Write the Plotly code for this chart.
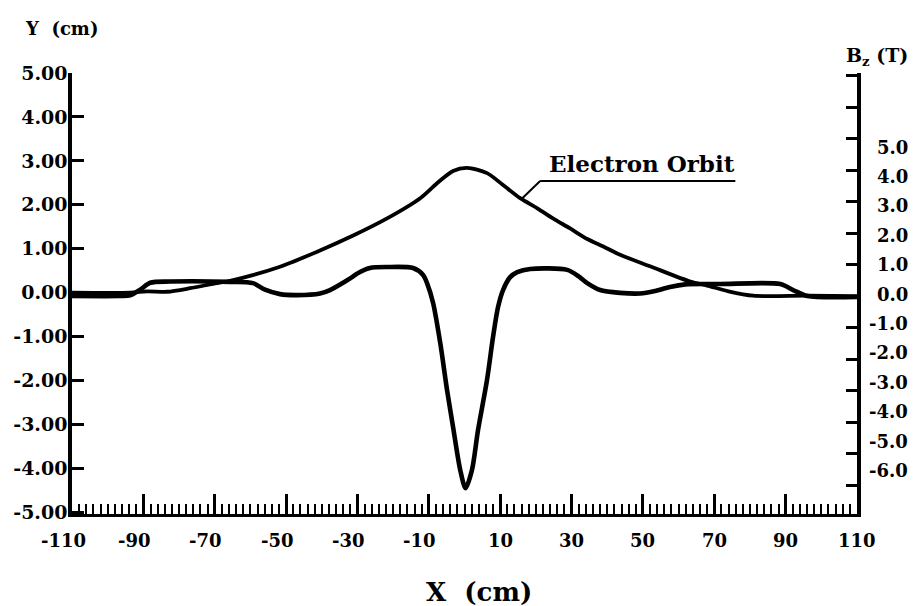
import plotly.graph_objects as go

# ---- data ----
x_orbit = [-110, -93.7, -89.0, -83.4, -76.9, -70.5, -65.7, -51.7, -40.5, -31.2, -21.7, -12.4,
           -7.7, -3.2, 0.7, 6.3, 10.8, 15.6, 20.4, 24.8, 29.6, 34.4, 38.9, 43.6, 52.0, 63.3,
           68.0, 74.0, 80.9, 96.1, 110]
y_orbit = [0.0, 0.0, 0.03, 0.02, 0.10, 0.20, 0.27, 0.59, 0.96, 1.30, 1.69, 2.15,
           2.49, 2.77, 2.84, 2.72, 2.45, 2.15, 1.92, 1.69, 1.46, 1.22, 1.05, 0.86, 0.60, 0.25,
           0.16, 0.03, -0.07, -0.07, -0.08]

x_field = [-110, -96.5, -93.7, -90.9, -88.1, -82.5, -65.7, -59.3, -55.9, -51.7, -46.9, -40.5,
           -37.7, -32.9, -29.3, -26.5, -21.7, -14.4, -11.6, -10.5, -8.8, -6.8, -4.9, -3.2,
           -1.2, 0.3, 2.1, 3.8, 6.3, 8.0, 9.4, 10.8, 12.8, 14.8, 18.4, 28.8, 31.9, 34.4,
           38.0, 43.6, 49.2, 53.4, 57.6, 61.9, 71.7, 88.5, 92.1, 96.1, 110]
b_field = [0.0, 0.0, 0.02, 0.20, 0.42, 0.46, 0.45, 0.41, 0.20, 0.06, 0.03, 0.08,
           0.19, 0.50, 0.76, 0.89, 0.92, 0.89, 0.67, 0.41, -0.22, -1.49, -2.98, -4.16,
           -5.52, -6.10, -5.52, -4.25, -2.67, -1.30, -0.35, 0.19, 0.60, 0.76, 0.86, 0.83, 0.63, 0.41,
           0.19, 0.10, 0.08, 0.16, 0.29, 0.37, 0.38, 0.38, 0.19, 0.0, -0.03]

x_tickvals = [-110, -90, -70, -50, -30, -10, 10, 30, 50, 70, 90, 110]
x_ticktext = ["-110", "-90", "-70", "-50", "-30", "-10", "10", "30", "50", "70", "90", "110"]
y_tickvals = [5, 4, 3, 2, 1, 0, -1, -2, -3, -4, -5]
y_ticktext = ["5.00", "4.00", "3.00", "2.00", "1.00", "0.00", "-1.00", "-2.00", "-3.00", "-4.00", "-5.00"]
b_tickmarks = [-6, -5, -4, -3, -2, -1, 0, 1, 2, 3, 4, 5, 6, 7]
b_labelvals = [5, 4, 3, 2, 1, 0, -1, -2, -3, -4, -5, -6]
b_labeltext = ["5.0", "4.0", "3.0", "2.0", "1.0", "0.0", "-1.0", "-2.0", "-3.0", "-4.0", "-5.0", "-6.0"]

FONT = "DejaVu Serif"

def f(size):
    return dict(family=FONT, size=size, color="black", weight="bold")

fig = go.Figure()
fig.add_trace(go.Scatter(x=x_orbit, y=y_orbit, mode="lines", yaxis="y",
                         line=dict(color="black", width=3.8, shape="spline", smoothing=0.8),
                         hoverinfo="skip"))
fig.add_trace(go.Scatter(x=x_field, y=b_field, mode="lines", yaxis="y2",
                         line=dict(color="black", width=4.6, shape="spline", smoothing=0.8),
                         hoverinfo="skip"))

annotations = []
# x tick labels (slightly offset like the original print)
for v, t in zip(x_tickvals, x_ticktext):
    annotations.append(dict(x=v, xref="x", xshift=(-9 if v < 0 else 0), xanchor="center",
                            y=0, yref="paper", yshift=-26, yanchor="middle",
                            text=t, showarrow=False, font=f(18)))
# right-axis (B_z) labels, right aligned
for v, t in zip(b_labelvals, b_labeltext):
    annotations.append(dict(x=1, xref="paper", xshift=53, xanchor="right", y=v, yref="y3",
                            yanchor="middle", text=t, showarrow=False, font=f(18)))
annotations += [
    dict(x=0, xref="paper", xshift=-49, xanchor="left", y=1, yref="paper", yshift=45,
         yanchor="middle", text="Y  (cm)", showarrow=False, font=f(18)),
    dict(x=1, xref="paper", xshift=53, xanchor="right", y=1, yref="paper", yshift=17,
         yanchor="middle", text="B<sub>z</sub> (T)", showarrow=False, font=f(19)),
    dict(x=0.5, xref="paper", xshift=14, xanchor="center", y=0, yref="paper", yshift=-78,
         yanchor="middle", text="X  (cm)", showarrow=False, font=f(26)),
    dict(x=23.0, xref="x", xanchor="left", y=2.95, yref="y", yanchor="middle",
         text="Electron Orbit", showarrow=False, font=f(23)),
]

shapes = [
    dict(type="line", xref="x", yref="y", x0=21.2, y0=2.54, x1=75.9, y1=2.54,
         line=dict(color="black", width=2)),
    dict(type="line", xref="x", yref="y", x0=21.2, y0=2.54, x1=16.2, y1=2.15,
         line=dict(color="black", width=2)),
]

fig.update_layout(
    width=910, height=598,
    margin=dict(l=64, r=61, t=65, b=92),
    paper_bgcolor="white", plot_bgcolor="white", showlegend=False,
    xaxis=dict(range=[-110, 110], tickvals=x_tickvals, showticklabels=False,
               ticks="inside", ticklen=20, tickwidth=2.5, tickcolor="black",
               showline=True, linewidth=3, linecolor="black", showgrid=False, zeroline=False,
               automargin=False,
               minor=dict(dtick=2, tick0=0, ticks="inside", ticklen=10, tickwidth=2,
                          tickcolor="black", showgrid=False)),
    yaxis=dict(range=[-5.04, 5.0], tickvals=y_tickvals, ticktext=y_ticktext,
               ticks="inside", ticklen=12, tickwidth=2.5, tickcolor="black",
               showline=True, linewidth=3.5, linecolor="black", showgrid=False, zeroline=False,
               tickfont=f(19), ticklabelstandoff=-3, automargin=False),
    yaxis2=dict(overlaying="y", side="right", range=[-6.92, 7.08], tickvals=b_tickmarks,
                showticklabels=False, ticks="inside", ticklen=11, tickwidth=2.5,
                tickcolor="black", showline=True, linewidth=3.5, linecolor="black",
                showgrid=False, zeroline=False, automargin=False),
    yaxis3=dict(overlaying="y", side="right", range=[-7.48, 7.52], visible=False,
                showgrid=False, zeroline=False, automargin=False),
    annotations=annotations,
    shapes=shapes,
)

fig.write_html("out.html")
